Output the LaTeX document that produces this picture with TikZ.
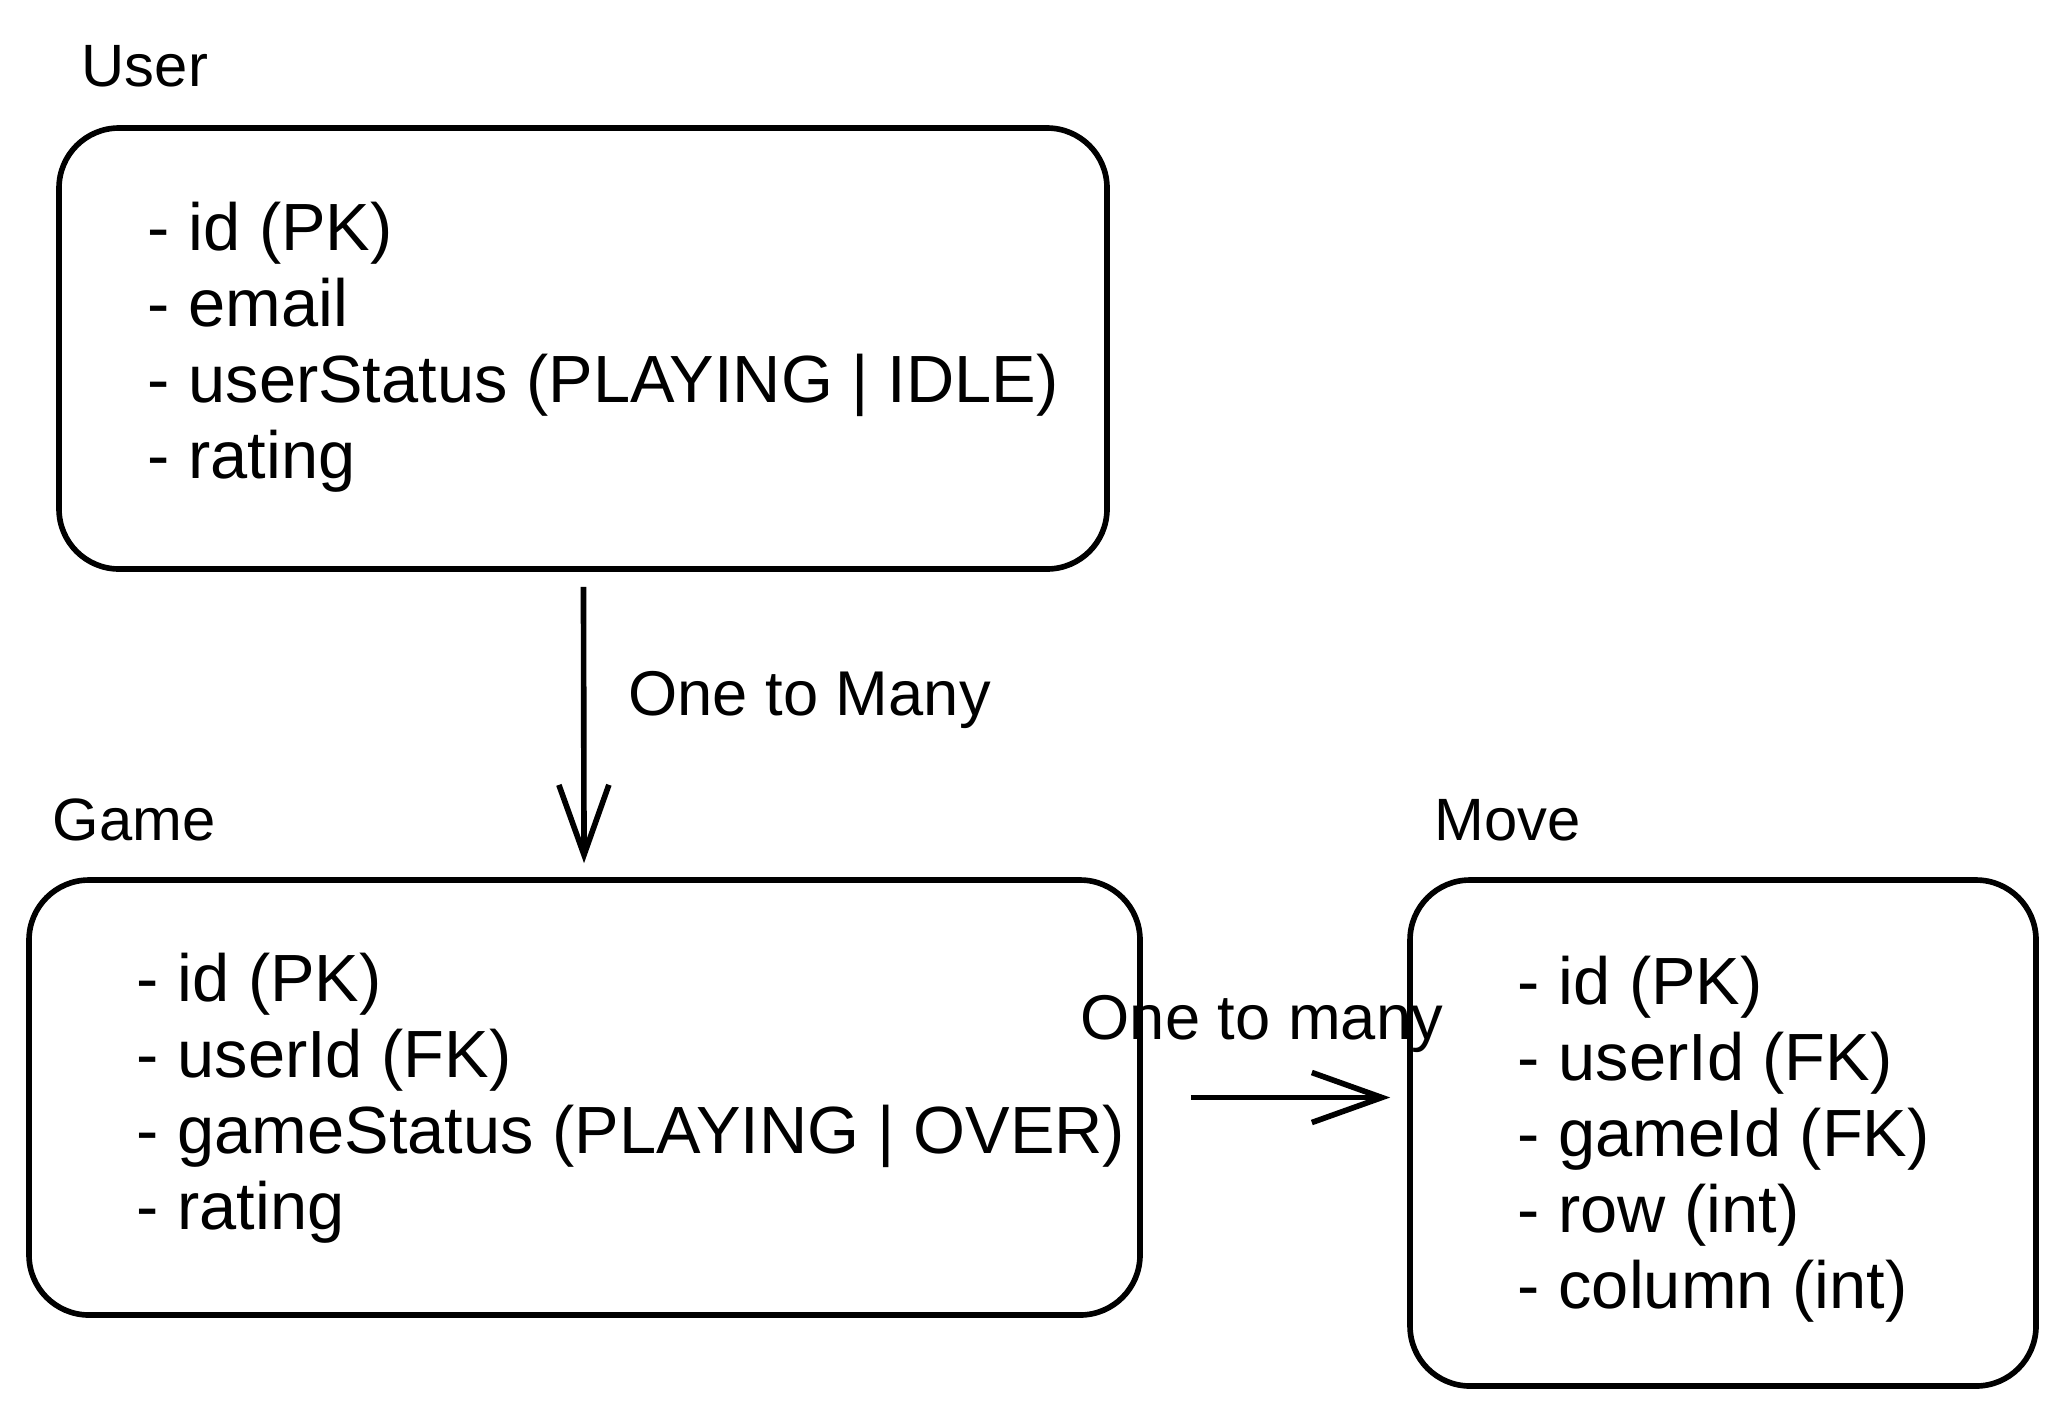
\documentclass[tikz,border=0pt]{standalone}
\usepackage{fontspec}
\setmainfont{Liberation Sans}
\usetikzlibrary{positioning, arrows.meta}

\begin{document}
\begin{tikzpicture}[x=0.1mm, y=-0.1mm, line width=1.6pt,
    entity/.style={draw, rounded corners=6mm, inner sep=0pt},
    title/.style={anchor=west, inner sep=0pt, font=\fontsize{17}{20}\selectfont},
    fields/.style={anchor=west, inner sep=0pt, align=left, font=\fontsize{19}{21.6}\selectfont},
    rel/.style={inner sep=0pt, font=\fontsize{18}{21}\selectfont},
    >={Straight Barb[length=7mm, width=5mm]}]
    \useasboundingbox (0,0) rectangle (2066,1416);

    % user table
    \node[entity, minimum width=104.8mm, minimum height=44.1mm] (user) at (583,348.5) {};
    \node[title] (usertitle) at (79,66) {User};
    \node[fields] (userfields) at (145,347) {- id (PK)\\- email\\- userStatus (PLAYING | IDLE)\\- rating};

    % game table
    \node[entity, minimum width=111.1mm, minimum height=43.5mm] (game) at (584.5,1097.5) {};
    \node[title] (gametitle) at (50,820) {Game};
    \node[fields] (gamefields) at (134,1098) {- id (PK)\\- userId (FK)\\- gameStatus (PLAYING | OVER)\\- rating};

    % move table
    \node[entity, minimum width=62.6mm, minimum height=50.6mm] (move) at (1723,1133) {};
    \node[title] (movetitle) at (1432,820) {Move};
    \node[fields] (movefields) at (1515,1139) {- id (PK)\\- userId (FK)\\- gameId (FK)\\- row (int)\\- column (int)};

    \path[->]
    (user) edge [shorten <=1.5mm, shorten >=1.4mm] node[pos=0.42, right=4.2mm, rel] {One to Many} (game)
    (game) edge [shorten <=4.8mm, shorten >=1.7mm] node[pos=0.45, yshift=7.4mm, rel] {One to many} (game -| move.west);
\end{tikzpicture}
\end{document}
